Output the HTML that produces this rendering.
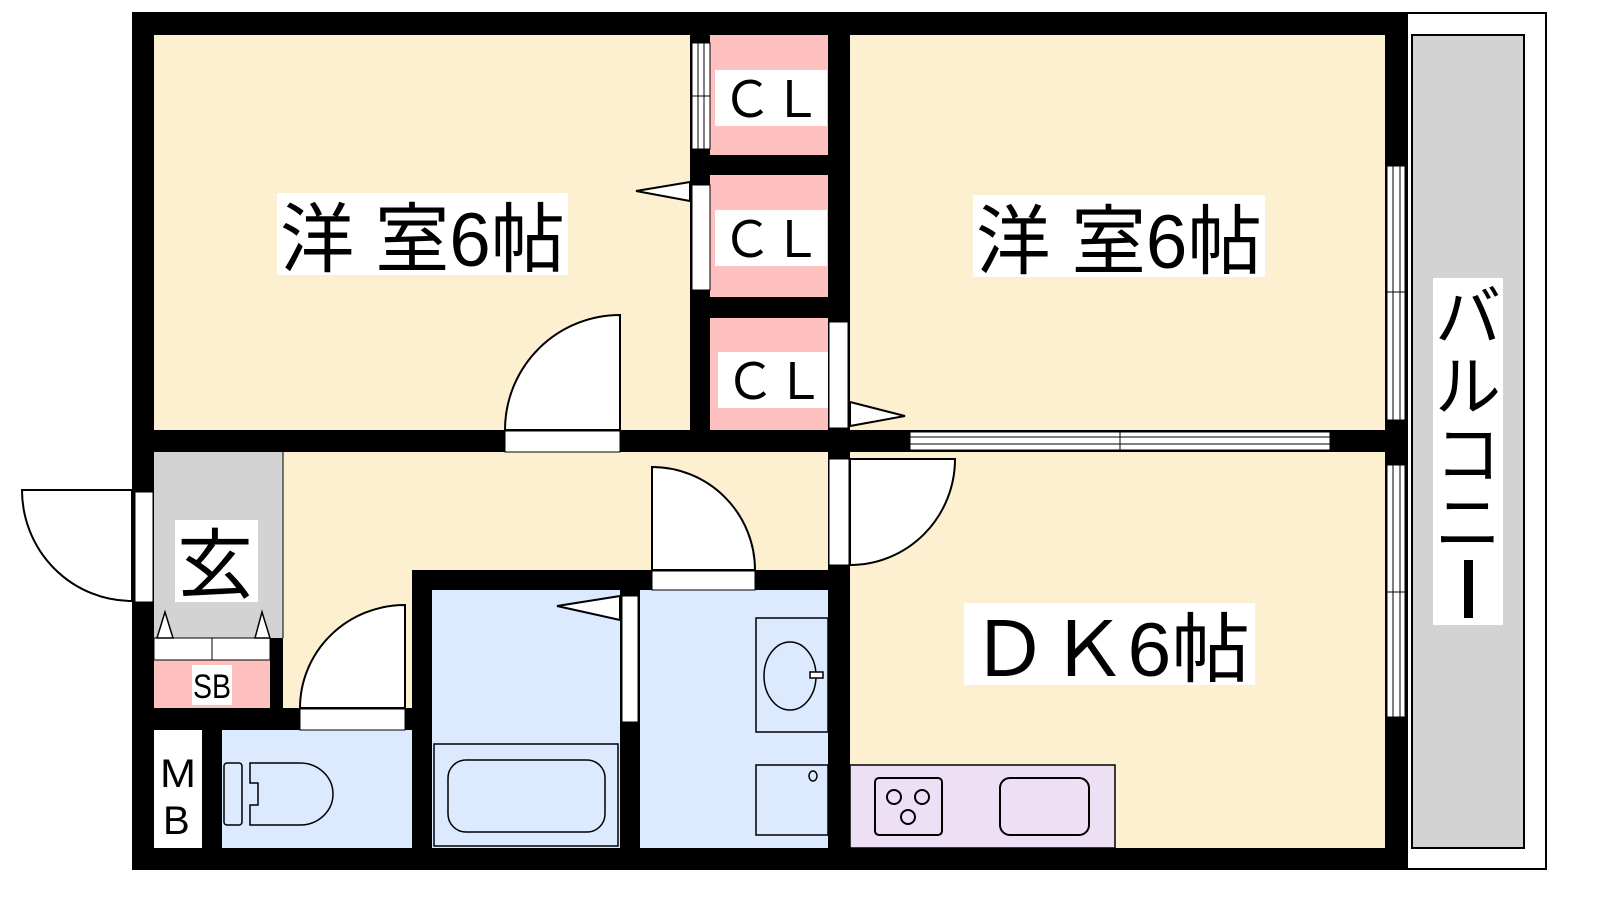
<!DOCTYPE html>
<html><head><meta charset="utf-8"><style>
html,body{margin:0;padding:0;background:#fff;}
svg{display:block;}
text{font-family:"Liberation Sans","Noto Sans CJK JP",sans-serif;}
</style></head><body>
<svg width="1600" height="900" viewBox="0 0 1600 900" xmlns="http://www.w3.org/2000/svg">
<!-- balcony -->
<rect x="1407" y="13" width="139" height="856" fill="#fff" stroke="#000" stroke-width="2"/>
<rect x="1412" y="35" width="112" height="813" fill="#d3d3d3" stroke="#000" stroke-width="2"/>
<!-- outer wall base -->
<rect x="132" y="12" width="1275" height="858" fill="#000"/>
<!-- rooms -->
<rect x="154" y="35" width="536" height="395" fill="#fdf0d0"/>
<rect x="850" y="35" width="535" height="395" fill="#fdf0d0"/>
<rect x="850" y="452" width="535" height="396" fill="#fdf0d0"/>
<rect x="154" y="452" width="129" height="186" fill="#d3d3d3"/>
<rect x="283" y="452" width="545" height="118" fill="#fdf0d0"/>
<rect x="283" y="570" width="129" height="138" fill="#fdf0d0"/>
<line x1="283" y1="452" x2="283" y2="638" stroke="#000" stroke-width="1"/>
<!-- closets -->
<rect x="710" y="35" width="118" height="120" fill="#ffc0c0"/>
<rect x="710" y="175" width="118" height="122" fill="#ffc0c0"/>
<rect x="710" y="318" width="118" height="112" fill="#ffc0c0"/>
<!-- bath, wash, toilet -->
<rect x="432" y="590" width="188" height="258" fill="#dbeaff"/>
<rect x="640" y="590" width="188" height="258" fill="#dbeaff"/>
<rect x="222" y="730" width="190" height="118" fill="#dbeaff"/>
<!-- SB, MB -->
<rect x="154" y="638" width="116" height="70" fill="#ffc0c0"/>
<rect x="154" y="638" width="116" height="22" fill="#fff" stroke="#000" stroke-width="1"/>
<line x1="212" y1="638" x2="212" y2="660" stroke="#000"/>
<rect x="154" y="730" width="48" height="118" fill="#fff"/>
<!-- kitchen -->
<rect x="850" y="765" width="265" height="83" fill="#ede0f5" stroke="#000" stroke-width="1.5"/>
<rect x="875" y="778" width="67" height="57" rx="4" fill="none" stroke="#000" stroke-width="2"/>
<circle cx="894" cy="797" r="7" fill="none" stroke="#000" stroke-width="2"/>
<circle cx="922" cy="797" r="7" fill="none" stroke="#000" stroke-width="2"/>
<circle cx="908" cy="817" r="7" fill="none" stroke="#000" stroke-width="2"/>
<rect x="1000" y="778" width="89" height="57" rx="10" fill="none" stroke="#000" stroke-width="2"/>
<!-- bathtub -->
<rect x="434" y="744" width="184" height="102" fill="none" stroke="#000" stroke-width="1.5"/>
<rect x="448" y="760" width="157" height="72" rx="18" fill="none" stroke="#000" stroke-width="1.5"/>
<!-- washbasin & washer -->
<rect x="756" y="618" width="72" height="114" fill="none" stroke="#000" stroke-width="1.5"/>
<ellipse cx="790" cy="676" rx="26" ry="34" fill="none" stroke="#000" stroke-width="1.5"/>
<rect x="810" y="672" width="13" height="6" fill="#fff" stroke="#000" stroke-width="1.5"/>
<rect x="756" y="765" width="72" height="70" fill="none" stroke="#000" stroke-width="1.5"/>
<ellipse cx="813" cy="776" rx="4" ry="5" fill="none" stroke="#000" stroke-width="1.5"/>
<!-- toilet -->
<rect x="224" y="763" width="18" height="62" rx="3" fill="none" stroke="#000" stroke-width="1.5"/>
<path d="M250 763 H300 A33 31 0 0 1 300 825 H250 V805 H258 V783 H250 Z" fill="none" stroke="#000" stroke-width="1.5"/>
<!-- openings (white) in walls -->
<rect x="505" y="431" width="115" height="21" fill="#fff" stroke="#000" stroke-width="1"/>
<rect x="652" y="571" width="103" height="19" fill="#fff" stroke="#000" stroke-width="1"/>
<rect x="300" y="709" width="105" height="21" fill="#fff" stroke="#000" stroke-width="1"/>
<rect x="622" y="596" width="16" height="126" fill="#fff" stroke="#000" stroke-width="1"/>
<rect x="829" y="459" width="20" height="106" fill="#fff" stroke="#000" stroke-width="1"/>
<rect x="135" y="492" width="18" height="110" fill="#fff" stroke="#000" stroke-width="1"/>
<rect x="692" y="43" width="18" height="106" fill="#fff" stroke="#000" stroke-width="1"/>
<line x1="698" y1="43" x2="698" y2="149" stroke="#000"/><line x1="704" y1="43" x2="704" y2="149" stroke="#000"/>
<line x1="692" y1="96" x2="710" y2="96" stroke="#000"/>
<rect x="692" y="185" width="18" height="105" fill="#fff" stroke="#000" stroke-width="1"/>
<rect x="829" y="322" width="19" height="106" fill="#fff" stroke="#000" stroke-width="1"/>
<!-- sliding partition between right room and DK -->
<rect x="910" y="432" width="420" height="18" fill="#fff" stroke="#000" stroke-width="1"/>
<line x1="910" y1="437" x2="1330" y2="437" stroke="#000"/><line x1="910" y1="444" x2="1330" y2="444" stroke="#000"/>
<line x1="1120" y1="432" x2="1120" y2="450" stroke="#000"/>
<!-- balcony windows -->
<rect x="1387" y="166" width="18" height="254" fill="#fff" stroke="#000" stroke-width="1"/>
<line x1="1393" y1="166" x2="1393" y2="420" stroke="#000"/><line x1="1400" y1="166" x2="1400" y2="420" stroke="#000"/>
<line x1="1387" y1="292" x2="1405" y2="292" stroke="#000"/>
<rect x="1387" y="465" width="18" height="252" fill="#fff" stroke="#000" stroke-width="1"/>
<line x1="1393" y1="465" x2="1393" y2="717" stroke="#000"/><line x1="1400" y1="465" x2="1400" y2="717" stroke="#000"/>
<line x1="1387" y1="592" x2="1405" y2="592" stroke="#000"/>
<!-- door swings -->
<path d="M620 315 V430 H505 A115 115 0 0 1 620 315 Z" fill="#fff" stroke="#000" stroke-width="2"/>
<path d="M405 605 V708 H300 A105 103 0 0 1 405 605 Z" fill="#fff" stroke="#000" stroke-width="2"/>
<path d="M652 467 V570 H755 A103 103 0 0 0 652 467 Z" fill="#fff" stroke="#000" stroke-width="2"/>
<path d="M850 459 H955 A105 106 0 0 1 850 565 Z" fill="#fff" stroke="#000" stroke-width="2"/>
<path d="M132 490 H22 A110 111 0 0 0 132 601 Z" fill="#fff" stroke="#000" stroke-width="2"/>
<path d="M690 182 L636 191 L690 201 Z" fill="#fff" stroke="#000" stroke-width="2"/>
<path d="M850 402 L905 416 L850 426 Z" fill="#fff" stroke="#000" stroke-width="2"/>
<path d="M620 596 L557 606 L620 620 Z" fill="#fff" stroke="#000" stroke-width="2"/>
<path d="M157 638 L165 612 L173 638 Z M255 638 L262 612 L270 638 Z" fill="#fff" stroke="#000" stroke-width="1.5"/>
<!-- labels -->
<rect x="277" y="193" width="291" height="82" fill="#fff"/>
<text x="280" y="266" font-size="76" textLength="285" lengthAdjust="spacingAndGlyphs">洋 室6帖</text>
<rect x="973" y="195" width="292" height="82" fill="#fff"/>
<text x="976" y="268" font-size="76" textLength="286" lengthAdjust="spacingAndGlyphs">洋 室6帖</text>
<rect x="964" y="603" width="291" height="82" fill="#fff"/>
<text x="970" y="676" font-size="76" textLength="280" lengthAdjust="spacingAndGlyphs">ＤＫ6帖</text>
<rect x="715" y="70" width="112" height="56" fill="#fff"/>
<text x="722" y="117" font-size="50" textLength="100" lengthAdjust="spacingAndGlyphs">ＣＬ</text>
<rect x="715" y="210" width="112" height="56" fill="#fff"/>
<text x="722" y="257" font-size="50" textLength="100" lengthAdjust="spacingAndGlyphs">ＣＬ</text>
<rect x="718" y="352" width="110" height="56" fill="#fff"/>
<text x="725" y="399" font-size="50" textLength="100" lengthAdjust="spacingAndGlyphs">ＣＬ</text>
<rect x="175" y="520" width="83" height="82" fill="#fff"/>
<text x="177" y="592" font-size="76">玄</text>
<rect x="192" y="665" width="40" height="40" fill="#fff"/>
<text x="193" y="698" font-size="34" textLength="38" lengthAdjust="spacingAndGlyphs">SB</text>
<text x="160" y="787" font-size="40" textLength="36" lengthAdjust="spacingAndGlyphs">M</text>
<text x="163" y="834" font-size="40">B</text>
<rect x="1433" y="278" width="70" height="347" fill="#fff"/>
<text x="1468" y="340" font-size="66" text-anchor="middle">バ</text>
<text x="1468" y="410" font-size="66" text-anchor="middle">ル</text>
<text x="1468" y="478" font-size="66" text-anchor="middle">コ</text>
<text x="1468" y="546" font-size="66" text-anchor="middle">ニ</text>
<rect x="1464" y="560" width="9" height="58" fill="#000"/>
</svg>
</body></html>
